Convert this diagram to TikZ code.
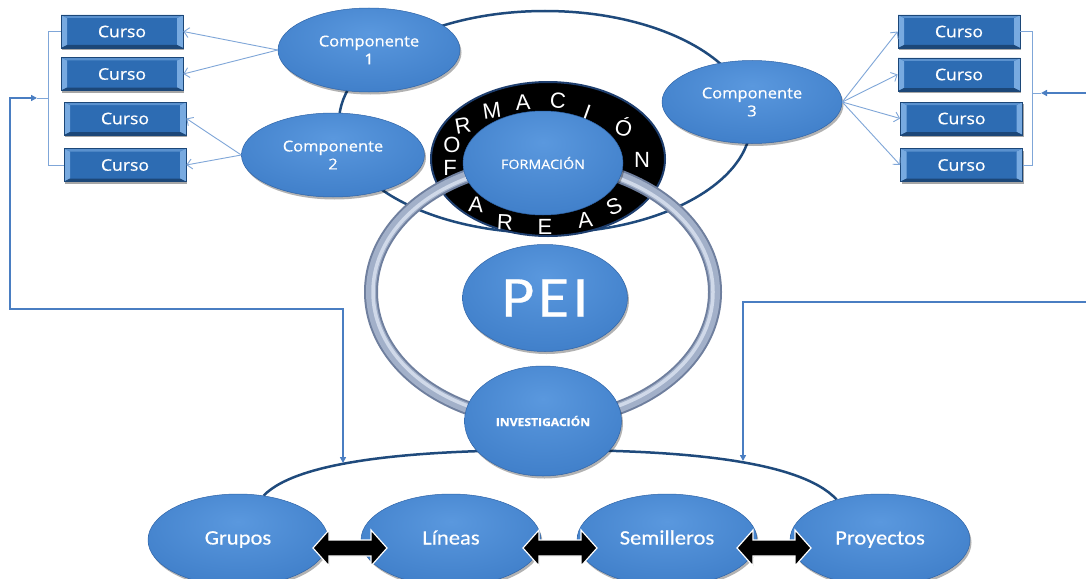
\documentclass[tikz,border=0pt]{standalone}
\usepackage{fontspec}
\usetikzlibrary{shapes.geometric,arrows.meta,shadows}
\newfontfamily\osf[FakeStretch=1.1,FakeBold=0.6]{Open Sans}
\newfontfamily\caf[FakeStretch=1.1,FakeBold=0.4]{Carlito}
\newfontfamily\lsf{Liberation Sans}
\definecolor{blobin}{HTML}{5A98DE}
\definecolor{blobmid}{HTML}{4281CB}
\definecolor{blobout}{HTML}{2A5EA4}
\definecolor{blobedge}{HTML}{2F64A8}
\definecolor{cursofill}{HTML}{2D6CB3}
\definecolor{cursoedge}{HTML}{1C4778}
\definecolor{bevel}{HTML}{78AAE0}
\definecolor{thinline}{HTML}{7FA6D8}
\definecolor{loopblue}{HTML}{4A7EC2}
\definecolor{orbitblue}{HTML}{1F4A7C}
\definecolor{ringdark}{HTML}{6F7F9E}
\definecolor{ringmid}{HTML}{A2B0C9}
\definecolor{ringlight}{HTML}{D0D9E9}
\definecolor{blackedge}{HTML}{1E3E6E}
\pgfdeclareradialshading{blobshade}{\pgfpoint{0bp}{10bp}}{color(0bp)=(blobin); color(30bp)=(blobmid); color(55bp)=(blobout); color(90bp)=(blobout)}
\pgfdeclarelayer{bg}
\pgfsetlayers{bg,main}
\newcommand\compfont{\osf\fontsize{15}{18}\selectfont}
\newcommand\botfont{\caf\fontsize{20.5}{24}\selectfont}
\begin{document}
\begin{tikzpicture}[x=1pt,y=-1pt,
  blob/.style={ellipse, inner sep=0pt, draw=blobedge, line width=0.5pt, shade, shading=blobshade, text=white, align=center,
    drop shadow={shadow xshift=1.5pt, shadow yshift=-2.5pt, opacity=0.3, fill=black}},
  botblob/.style={blob, minimum width=180pt, minimum height=92pt, font=\botfont, text height=13pt, text depth=4pt},
  cursobox/.style={rectangle, minimum width=122pt, minimum height=33pt, inner sep=0pt, fill=cursofill, draw=cursoedge,
    line width=0.7pt, text=white, font=\osf\fontsize{16}{19}\selectfont,
    drop shadow={shadow xshift=1pt, shadow yshift=-2pt, opacity=0.35, fill=black},
    path picture={
      \fill[bevel] (path picture bounding box.north west) -- ([xshift=6pt,yshift=-3pt]path picture bounding box.north west) -- ([xshift=6pt,yshift=3pt]path picture bounding box.south west) -- (path picture bounding box.south west) -- cycle;
      \fill[bevel] (path picture bounding box.north east) -- ([xshift=-6pt,yshift=-3pt]path picture bounding box.north east) -- ([xshift=-6pt,yshift=3pt]path picture bounding box.south east) -- (path picture bounding box.south east) -- cycle;
      \fill[bevel!60!cursofill] (path picture bounding box.north west) -- (path picture bounding box.north east) -- ([xshift=-6pt,yshift=-3pt]path picture bounding box.north east) -- ([xshift=6pt,yshift=-3pt]path picture bounding box.north west) -- cycle;
      \fill[cursoedge] (path picture bounding box.south west) -- (path picture bounding box.south east) -- ([xshift=-6pt,yshift=3pt]path picture bounding box.south east) -- ([xshift=6pt,yshift=3pt]path picture bounding box.south west) -- cycle;
    }},
  ringletter/.style={text=white, font=\lsf\fontsize{22}{22}\selectfont, inner sep=0pt},
  compline/.style={draw=thinline, line width=0.9pt, -{Straight Barb[length=5pt,width=10pt]}},
  bracket/.style={draw=thinline, line width=1pt},
  loopline/.style={draw=loopblue, line width=1.5pt},
  tipa/.style={-{Triangle[length=6pt,width=6pt]}},
  orbitline/.style={draw=orbitblue, line width=2.5pt},
  dbl/.pic={\filldraw[fill=black, draw=white, line width=1.2pt]
     (-37,0) -- (-21,-18) -- (-21,-8) -- (21,-8) -- (21,-18) -- (37,0) -- (21,18) -- (21,8) -- (-21,8) -- (-21,18) -- cycle;}
]
\useasboundingbox (0,0) rectangle (1086,578);
\begin{pgfonlayer}{bg}
  \fill[white] (0,0) rectangle (1086,578);
\end{pgfonlayer}

% ---------- central structure ----------
\node[ellipse, inner sep=0pt, draw=orbitblue, line width=2.5pt, minimum width=412pt, minimum height=222pt] (orbit) at (545,122) {};
\node[ellipse, inner sep=0pt, fill=black, draw=blackedge, line width=2pt, minimum width=234pt, minimum height=154pt] (blackring) at (548,159) {};
\node[ringletter] (l1) at (450,168) {F};
\node[ringletter] (l2) at (452,145) {O};
\node[ringletter, rotate=10] (l3) at (463,126) {R};
\node[ringletter, rotate=8] (l4) at (492,111) {M};
\node[ringletter, rotate=4] (l5) at (523,102) {A};
\node[ringletter, rotate=-5] (l6) at (558,101) {C};
\node[ringletter, rotate=-20] (l7) at (587,112) {I};
\node[ringletter, rotate=-15] (l8) at (624,127) {Ó};
\node[ringletter] (l9) at (642,160) {N};
\node[ringletter, rotate=-5] (l10) at (476,205) {A};
\node[ringletter, rotate=-3] (l11) at (505,222) {R};
\node[ringletter] (l12) at (545,227) {E};
\node[ringletter, rotate=8] (l13) at (585,220) {A};
\node[ringletter, rotate=25] (l14) at (614,207) {S};

% grey ring
\draw[ringdark, line width=14pt] (543,292) ellipse [x radius=172, y radius=129];
\draw[ringmid, line width=10pt] (543,292) ellipse [x radius=172, y radius=129];
\draw[ringlight, line width=3.5pt] (543,292) ellipse [x radius=170, y radius=127];

\node[blob, minimum width=160pt, minimum height=104pt, font=\osf\fontsize{13}{15}\selectfont] (form) at (543,163) {FORMACIÓN};
\node[blob, minimum width=165pt, minimum height=107pt, font=\caf\fontsize{58}{60}\selectfont] (pei) at (545,298) {\addfontfeature{LetterSpace=6}PEI};
\node[blob, minimum width=157pt, minimum height=110pt, font=\osf\bfseries\fontsize{11}{13}\selectfont] (inv) at (543,421) {INVESTIGACIÓN};

% ---------- components ----------
\node[blob, minimum width=182pt, minimum height=84pt, font=\compfont] (c1) at (369,50) {Componente\\1};
\node[blob, minimum width=183pt, minimum height=84pt, font=\compfont] (c2) at (333,155) {Componente\\2};
\node[blob, minimum width=180pt, minimum height=83pt, font=\compfont] (c3) at (752,102) {Componente\\3};

% ---------- bottom row ----------
\node[botblob, minimum width=180pt] (g) at (238,540) {Grupos};
\node[botblob] (li) at (451,540) {Líneas};
\node[botblob] (se) at (667,540) {Semilleros};
\node[botblob] (pr) at (880,540) {Proyectos};
\pic at (350,548) {dbl};
\pic at (560,548) {dbl};
\pic at (774,548) {dbl};

% ---------- cursos ----------
\node[cursobox] (L1) at (122,31.5) {Curso};
\node[cursobox] (L2) at (122,74) {Curso};
\node[cursobox] (L3) at (125,118.5) {Curso};
\node[cursobox] (L4) at (125,165) {Curso};
\node[cursobox] (R1) at (959,31.5) {Curso};
\node[cursobox] (R2) at (959,74.5) {Curso};
\node[cursobox] (R3) at (961.5,118.5) {Curso};
\node[cursobox] (R4) at (961.5,165) {Curso};

\draw[compline] (c1.west) -- (L1.east);
\draw[compline] (c1.west) -- (L2.east);
\draw[compline] (c2.west) -- (L3.east);
\draw[compline] (c2.west) -- (L4.east);
\draw[compline] (c3.east) -- (R1.west);
\draw[compline] (c3.east) -- (R2.west);
\draw[compline] (c3.east) -- (R3.west);
\draw[compline] (c3.east) -- (R4.west);

% brackets
\draw[bracket] (L1.west) -- ++(-12,0) |- (L4.west);
\draw[bracket] (R1.east) -- ++(12,0) |- (R4.east);
\coordinate (lb) at (49,98);
\coordinate (lin) at (37,98);
\coordinate (rb) at (1032,93);
\coordinate (rtip) at (1041,93);
\coordinate (rin) at (1086,93);
\coordinate (rfar) at (1086,302);
\coordinate (iL) at (343,463);
\coordinate (iR) at (743,461);
\draw[bracket] (lin) -- (lb);
\draw[bracket] (rtip) -- (rb);

\begin{pgfonlayer}{bg}
  \draw[orbitline] (g.60) .. controls (300,458) and (430,450) .. (550,450) .. controls (680,450) and (800,460) .. (pr.137);
  \draw[loopline, {Triangle[length=6pt,width=6pt]}-{Triangle[length=6pt,width=6pt]}] (lin) -| (10,309) -| (iL);
  \draw[loopline, tipa] (rin) -- (rtip);
  \draw[loopline, tipa] (rfar) -| (iR);
\end{pgfonlayer}
\end{tikzpicture}
\end{document}
